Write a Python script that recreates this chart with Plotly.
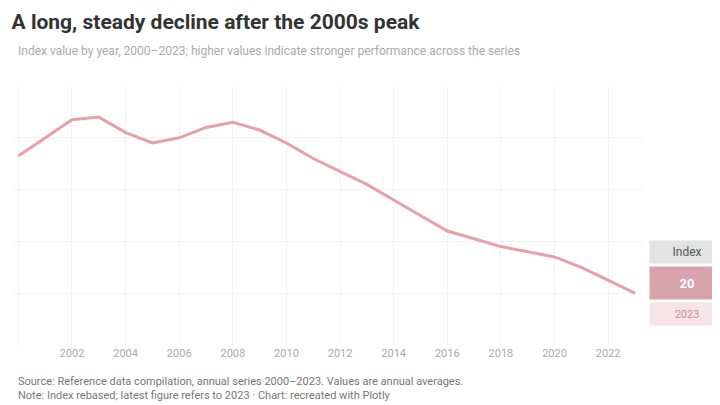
import plotly.graph_objects as go

years = list(range(2000, 2024))
values = [73, 80, 87, 88, 82, 78, 80, 84, 86, 83, 78, 72, 67, 62, 56, 50, 44, 41, 38, 36, 34, 30, 25, 20]
series_name = "Index"
title_text = "<b>A long, steady decline after the 2000s peak</b>"
subtitle_text = "Index value by year, 2000–2023; higher values indicate stronger performance across the series"
source_text = ("Source: Reference data compilation, annual series 2000–2023. Values are annual averages.<br>"
               "Note: Index rebased; latest figure refers to 2023 · Chart: recreated with Plotly")

fig = go.Figure()
fig.add_trace(go.Scatter(
    x=years, y=values, mode="lines", name=series_name,
    line=dict(color="#e8a0a8", width=3), showlegend=False,
))

fig.add_annotation(
    x=1.01, xref="paper", y=values[-1] + 16, yref="y",
    text=series_name, showarrow=False, xanchor="left",
    font=dict(family="Roboto", size=12, color="#555"),
    bgcolor="#e3e3e3", width=72, height=20,
)
fig.add_annotation(
    x=1.01, xref="paper", y=values[-1] + 4, yref="y",
    text=f"<b>{values[-1]}</b>", showarrow=False, xanchor="left",
    font=dict(family="Roboto", size=13, color="#ffffff"),
    bgcolor="#d9a3ab", width=72, height=30,
)
fig.add_annotation(
    x=1.01, xref="paper", y=values[-1] - 8, yref="y",
    text="2023", showarrow=False, xanchor="left",
    font=dict(family="Roboto", size=11, color="#c98d95"),
    bgcolor="#f7e4e6", width=72, height=20,
)

fig.update_layout(
    width=720, height=405,
    margin=dict(l=5, r=85, t=78, b=68),
    paper_bgcolor="#ffffff", plot_bgcolor="#ffffff",
    title=dict(text=title_text,
               x=0.005, xanchor="left", y=0.985, yanchor="top",
               font=dict(family="Roboto", size=21, color="#333")),
    xaxis=dict(showgrid=True, gridcolor="#f2f2f2", tickfont=dict(family="Roboto", size=11, color="#aaa"),
               dtick=2, showline=False, range=[1999.8, 2023.3]),
    yaxis=dict(side="right", range=[0, 100], gridcolor="#f2f2f2", zeroline=False,
               showticklabels=False),
)
fig.add_annotation(
    x=0.005, xref="paper", y=1.0, yref="paper", yshift=26, text=subtitle_text, showarrow=False,
    xanchor="left", yanchor="bottom", font=dict(family="Roboto", size=12, color="#aaa"),
)
fig.add_annotation(
    x=0.005, xref="paper", y=0, yref="paper", yshift=-28, text=source_text, showarrow=False,
    xanchor="left", yanchor="top", align="left", font=dict(family="Roboto", size=11, color="#777"),
)
fig.write_html("out.html")
